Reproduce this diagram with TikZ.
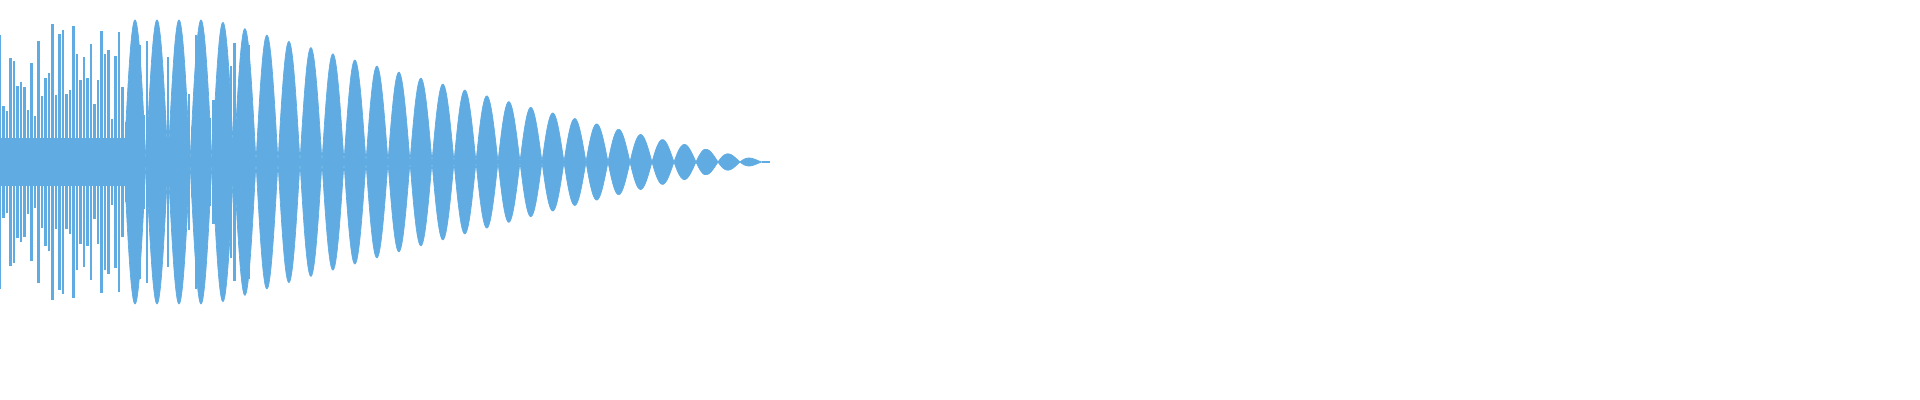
\documentclass[tikz,border=0pt]{standalone}
\usetikzlibrary{positioning}
\definecolor{wave}{RGB}{96,172,226}
\begin{document}
\begin{tikzpicture}[x=0.01cm,y=0.01cm,
    declare function={amp(\x)=min(142,142*((775-\x)/560)^1.15);},
    lobe/.style={fill=wave,draw=wave,line width=0.2pt},
    spike/.style={draw=wave,line width=0.6pt}]
  \useasboundingbox (0,0) rectangle (1920,400);
  % envelope lobes, right part of the signal
  \foreach \i in {0,...,28}{
    \pgfmathsetmacro{\a}{762-22*(\i+1)}
    \pgfmathsetmacro{\b}{762-22*\i}
    \fill[lobe] plot[domain=\a:\b,samples=25,smooth] (\x,{238+amp(\x)*sin(180*(\x-\a)/22)})
      -- plot[domain=\b:\a,samples=25,smooth] (\x,{238-amp(\x)*sin(180*(\x-\a)/22)}) -- cycle;
  }
  % tail
  \draw[wave,line width=0.8pt] (762,238) -- (770,238);
  % dense noisy start
  \fill[wave] (0,214) rectangle (140,262);
  \pgfmathsetseed{7}
  \foreach \x in {0,3.5,...,250}{
    \pgfmathsetmacro{\h}{\x<150 ? 40+100*rnd : 30+100*rnd}
    \draw[spike] (\x,{238-\h}) -- (\x,{238+\h});
  }
\end{tikzpicture}
\end{document}
